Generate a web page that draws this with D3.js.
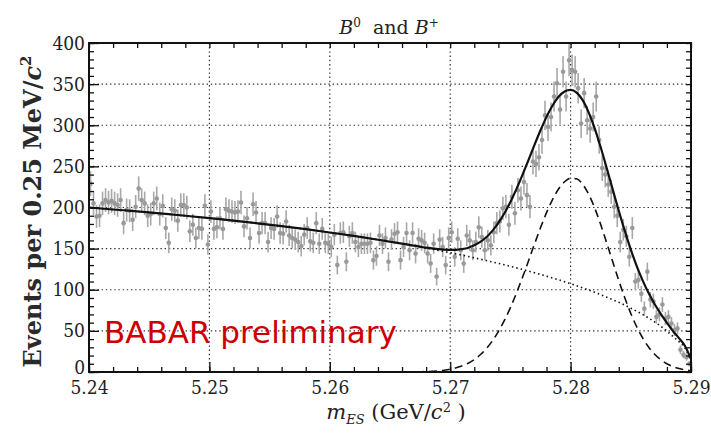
<!DOCTYPE html>
<html>
<head>
<meta charset="utf-8">
<script src="https://cdn.jsdelivr.net/npm/d3@7"></script>
<style>
  body { margin: 0; background: #fff; }
  text { font-family: "DejaVu Serif", serif; }
</style>
</head>
<body>
<svg id="chart"></svg>
<script>
// events per 0.25 MeV bin, 5.24 -> 5.29 GeV (200 bins)
const binStart = 5.24, binWidth = 0.00025;
const counts = [
  229, 205, 189, 190, 205, 209, 206, 208, 205, 203, 209, 181, 197, 196, 185, 201, 223, 209, 205, 190,
  192, 205, 211, 192, 202, 175, 157, 198, 196, 184, 203, 203, 200, 171, 179,
  163, 175, 174, 202, 155, 195, 174, 176, 187, 174, 198, 196, 195, 194, 195, 206, 177, 187, 163, 204,
  194, 169, 181, 181, 158, 175, 174, 189, 169, 168, 183, 166, 163,
  161, 158, 153, 167, 175, 159, 157, 181, 156, 174, 157, 156, 152, 167, 130, 169, 170, 134, 165, 169,
  158, 152, 156, 156, 156, 157, 136, 141, 166, 156, 163, 134,
  161, 168, 170, 136, 152, 169, 148, 169, 144, 162, 160, 157, 144, 132, 156, 116, 161, 152, 130, 163,
  170, 140, 162, 148, 132, 166, 160, 148, 158, 176, 164, 148, 160,
  154, 170, 181, 183, 199, 201, 179, 213, 193, 221, 211, 231, 215, 201, 256, 253, 261, 282, 312, 298,
  310, 335, 351, 319, 365, 335, 379, 367, 365, 345, 302, 339, 306, 296,
  310, 335, 282, 248, 240, 228, 219, 201, 190, 158, 173, 165, 140, 175, 110, 112, 95, 77, 122, 88,
  86, 67, 70, 82, 65, 67, 59, 51, 53, 27, 21, 18, 10
];

// fit curves sampled along m_ES
const curveX = [
  5.240, 5.242, 5.244, 5.246, 5.248, 5.250, 5.252, 5.254, 5.256, 5.258, 5.260, 5.262, 5.264,
  5.2650, 5.2655, 5.2660, 5.2665, 5.2670, 5.2675, 5.2680, 5.2685, 5.2690, 5.2695,
  5.2700, 5.2705, 5.2710, 5.2715, 5.2720, 5.2725, 5.2730, 5.2735, 5.2740, 5.2745,
  5.2750, 5.2755, 5.2760, 5.2765, 5.2770, 5.2775, 5.2780, 5.2785, 5.2790, 5.2795,
  5.2800, 5.2805, 5.2810, 5.2815, 5.2820, 5.2825, 5.2830, 5.2835, 5.2840, 5.2845,
  5.2850, 5.2855, 5.2860, 5.2865, 5.2870, 5.2875, 5.2880, 5.2885, 5.2890, 5.2895, 5.2900
];
const bgCurve = [
  200, 197.6, 195.3, 192.7, 190.0, 187.1, 184.1, 180.8, 177.3, 173.6, 169.6, 165.4, 160.8,
  158.4, 157.2, 156.0, 154.7, 153.4, 152.1, 150.7, 149.3, 147.9, 146.5,
  145.0, 143.5, 142.0, 140.4, 138.8, 137.2, 135.5, 133.8, 132.1, 130.3,
  128.5, 126.6, 124.7, 122.7, 120.7, 118.6, 116.5, 114.3, 112.1, 109.7,
  107.3, 104.8, 102.3, 99.6, 96.9, 94.0, 91.0, 87.9, 84.7, 81.3,
  77.6, 73.8, 69.8, 65.4, 60.7, 55.5, 49.8, 43.2, 37, 29, 14
];
const sigCurve = [
  0, 0, 0, 0, 0, 0, 0, 0, 0, 0, 0, 0, 0,
  0, 0, 0.1, 0.1, 0.2, 0.3, 0.5, 0.9, 1.4, 2.2,
  3.4, 5.1, 7.5, 10.7, 15.2, 21.0, 28.4, 37.8, 49.2, 62.7,
  78.3, 95.8, 114.9, 134.9, 155.4, 175.3, 193.7, 209.7, 222.5, 231.3,
  235.6, 234.9, 228.3, 216.1, 199.4, 179.2, 156.9, 133.9, 111.3, 90.2,
  71.2, 54.7, 41.0, 29.9, 21.3, 14.8, 10.0, 6.5, 4.2, 2.6, 1.6
];

const xTicks = [5.24, 5.25, 5.26, 5.27, 5.28, 5.29];
const yTicks = [0, 50, 100, 150, 200, 250, 300, 350, 400];

// chart dimensions and margins
const width = 711, height = 437;
const marginTop = 43, marginRight = 20, marginBottom = 65, marginLeft = 89;

const x = d3.scaleLinear([5.24, 5.29], [marginLeft, width - marginRight]);
const y = d3.scaleLinear([0, 400], [height - marginBottom, marginTop]);

const svg = d3.select("#chart")
  .attr("width", width)
  .attr("height", height)
  .attr("viewBox", [0, 0, width, height]);

svg.append("defs").append("clipPath").attr("id", "plot")
  .append("rect")
  .attr("x", marginLeft).attr("y", marginTop)
  .attr("width", width - marginLeft - marginRight)
  .attr("height", height - marginTop - marginBottom);

// dotted grid
const grid = svg.append("g")
  .attr("stroke", "#333")
  .attr("stroke-width", 1.2)
  .attr("stroke-dasharray", "1.4,2.8");
grid.selectAll(".gx").data(xTicks.slice(1, -1)).join("line")
  .attr("x1", d => x(d)).attr("x2", d => x(d))
  .attr("y1", marginTop).attr("y2", height - marginBottom);
grid.selectAll(".gy").data(yTicks.slice(1, -1)).join("line")
  .attr("y1", d => y(d)).attr("y2", d => y(d))
  .attr("x1", marginLeft).attr("x2", width - marginRight);

// data points with error bars
const pts = counts.map((c, i) => ({ m: binStart + (i + 0.5) * binWidth, n: c }));
const dataG = svg.append("g").attr("clip-path", "url(#plot)");
dataG.selectAll("line").data(pts).join("line")
  .attr("x1", d => x(d.m)).attr("x2", d => x(d.m))
  .attr("y1", d => y(d.n - Math.sqrt(d.n)))
  .attr("y2", d => y(d.n + Math.sqrt(d.n)))
  .attr("stroke", "#a8a8a8")
  .attr("stroke-width", 1.6);
dataG.selectAll("circle").data(pts).join("circle")
  .attr("cx", d => x(d.m)).attr("cy", d => y(d.n))
  .attr("r", 2.3)
  .attr("fill", "#999");

// fit curves
const curveG = svg.append("g").attr("clip-path", "url(#plot)").attr("fill", "none").attr("stroke", "#111");
const fit = curveX.map((m, i) => ({ m, bg: bgCurve[i], sig: sigCurve[i] }));
const line = key => d3.line().curve(d3.curveMonotoneX).x(d => x(d.m)).y(key);

curveG.append("path").datum(fit)
  .attr("stroke-width", 1.6)
  .attr("stroke-dasharray", "1.5,3")
  .attr("d", line(d => y(d.bg)));
curveG.append("path").datum(fit.filter(d => d.m >= 5.265))
  .attr("stroke-width", 1.6)
  .attr("stroke-dasharray", "8,5")
  .attr("d", line(d => y(d.sig)));
curveG.append("path").datum(fit)
  .attr("stroke-width", 2.2)
  .attr("d", line(d => y(d.bg + d.sig)));

// axes with inward ticks
const xMinor = d3.range(5.24, 5.2901, 0.002);
const yMinor = d3.range(0, 401, 10);
const tickStyle = g => g.call(g => g.select(".domain").remove())
  .call(g => g.selectAll(".tick line").attr("stroke", "#111").attr("stroke-width", 1.3));

svg.append("g").attr("transform", `translate(0,${height - marginBottom})`)
  .call(d3.axisBottom(x).tickValues(xMinor).tickFormat("").tickSizeInner(-5).tickSizeOuter(0)).call(tickStyle);
svg.append("g").attr("transform", `translate(0,${marginTop})`)
  .call(d3.axisTop(x).tickValues(xMinor).tickFormat("").tickSizeInner(-5).tickSizeOuter(0)).call(tickStyle);
svg.append("g").attr("transform", `translate(${marginLeft},0)`)
  .call(d3.axisLeft(y).tickValues(yMinor).tickFormat("").tickSizeInner(-5).tickSizeOuter(0)).call(tickStyle);
svg.append("g").attr("transform", `translate(${width - marginRight},0)`)
  .call(d3.axisRight(y).tickValues(yMinor).tickFormat("").tickSizeInner(-5).tickSizeOuter(0)).call(tickStyle);

svg.append("g").attr("transform", `translate(0,${height - marginBottom})`)
  .call(d3.axisBottom(x).tickValues(xTicks).tickFormat(d3.format(".2f")).tickSizeInner(-10).tickSizeOuter(0).tickPadding(9))
  .call(tickStyle)
  .call(g => g.selectAll("text").attr("fill", "#222").style("font-size", "19px").style("font-stretch", "condensed"));
svg.append("g").attr("transform", `translate(${marginLeft},0)`)
  .call(d3.axisLeft(y).tickValues(yTicks).tickSizeInner(-10).tickSizeOuter(0).tickPadding(4))
  .call(tickStyle)
  .call(g => g.selectAll("text").attr("fill", "#222").style("font-size", "19px").style("font-stretch", "condensed"))
  .call(g => g.selectAll(".tick").filter(d => d === 0).select("text").attr("dy", "0.1em"));

// frame
svg.append("rect")
  .attr("x", marginLeft).attr("y", marginTop)
  .attr("width", width - marginLeft - marginRight)
  .attr("height", height - marginTop - marginBottom)
  .attr("fill", "none").attr("stroke", "#111").attr("stroke-width", 2);

// title
const title = svg.append("text").attr("x", 389).attr("y", 34)
  .attr("text-anchor", "middle").attr("fill", "#222").style("font-size", "19px");
title.append("tspan").attr("font-style", "italic").text("B");
title.append("tspan").attr("dy", -7).style("font-size", "12px").text("0");
title.append("tspan").attr("dy", 7).text("\u00a0 and ");
title.append("tspan").attr("font-style", "italic").text("B");
title.append("tspan").attr("dy", -7).style("font-size", "12px").text("+");

// axis titles
const xl = svg.append("text").attr("x", 396).attr("y", 419)
  .attr("text-anchor", "middle").attr("fill", "#222").style("font-size", "21px");
xl.append("tspan").attr("font-style", "italic").text("m");
xl.append("tspan").attr("dy", 5).attr("font-style", "italic").style("font-size", "13px").text("ES");
xl.append("tspan").attr("dy", -5).text(" (GeV/");
xl.append("tspan").attr("font-style", "italic").text("c");
xl.append("tspan").attr("dy", -7).style("font-size", "13px").text("2");
xl.append("tspan").attr("dy", 7).text(" )");

const yl = svg.append("text")
  .attr("transform", `translate(41,${(marginTop + height - marginBottom) / 2 + 4}) rotate(-90)`)
  .attr("text-anchor", "middle").attr("fill", "#2a2a2a")
  .style("font-size", "24px").style("font-weight", "bold");
yl.append("tspan").text("Events per 0.25 MeV/");
yl.append("tspan").attr("font-style", "italic").text("c");
yl.append("tspan").attr("dy", -10).style("font-size", "15px").text("2");

// watermark
svg.append("text").attr("x", 104).attr("y", 343)
  .attr("fill", "#cc0000")
  .style("font-family", "'DejaVu Sans', sans-serif")
  .style("font-size", "31px")
  .text("BABAR preliminary");
</script>
</body>
</html>
